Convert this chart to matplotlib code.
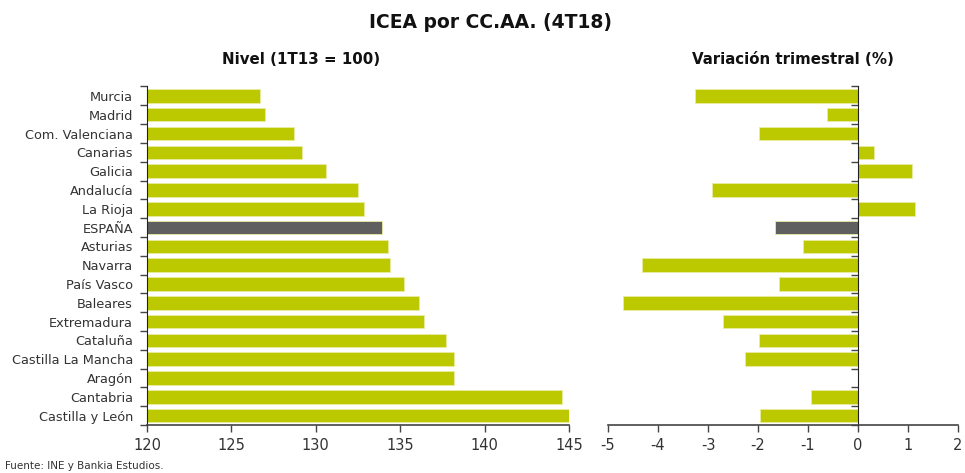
import matplotlib
matplotlib.use("Agg")
import matplotlib.pyplot as plt
import numpy as np

regions = ["Murcia", "Madrid", "Com. Valenciana", "Canarias", "Galicia", "Andalucía",
           "La Rioja", "ESPAÑA", "Asturias", "Navarra", "País Vasco", "Baleares",
           "Extremadura", "Cataluña", "Castilla La Mancha", "Aragón", "Cantabria",
           "Castilla y León"]
nivel = [126.7, 127.0, 128.7, 129.2, 130.6, 132.5, 132.85, 133.9, 134.3, 134.4,
         135.2, 136.1, 136.4, 137.7, 138.2, 138.2, 144.6, 145.0]
variacion = [-3.27, -0.62, -1.98, 0.31, 1.08, -2.92, 1.14, -1.67, -1.11, -4.33,
             -1.59, -4.69, -2.71, -1.98, -2.26, 0.0, -0.94, -1.97]
left_ticks = [120, 125, 130, 135, 140, 145]
right_ticks = [-5, -4, -3, -2, -1, 0, 1, 2]

GREEN = "#bcc800"
GREY = "#5f5f5f"
TXT = "#333333"
colors = [GREY if r == "ESPAÑA" else GREEN for r in regions]

plt.rcParams['font.family'] = ['DejaVu Sans']

fig = plt.figure(figsize=(9.65, 4.73), dpi=100)
ax1 = fig.add_axes([147/965, 1-425/473, (569-147)/965, (425-86.5)/473])
ax2 = fig.add_axes([608/965, 1-425/473, (958-608)/965, (425-86.5)/473])

y = np.arange(len(regions))
bounds = np.arange(len(regions) + 1) - 0.5

for ax in (ax1, ax2):
    for s in ("top", "right"):
        ax.spines[s].set_visible(False)
    ax.spines["left"].set_color("#222222")
    ax.spines["bottom"].set_color("#444444")
    ax.spines["bottom"].set_linewidth(1.2)
    ax.set_ylim(len(regions) - 0.5, -0.5)
    ax.set_yticks(bounds)
    ax.set_yticklabels([])
    ax.set_yticks(y, minor=True)
    ax.tick_params(axis="y", which="major", length=5, width=1, color="#444444")
    ax.tick_params(axis="y", which="minor", length=0)
    ax.tick_params(axis="x", length=5, width=1, color="#444444", labelsize=10.5,
                   labelcolor=TXT, pad=4)

ax1.barh(y, [v - left_ticks[0] for v in nivel], left=left_ticks[0], height=0.72,
         color=colors, edgecolor="#e8eca0", linewidth=0.6)
ax1.set_xlim(left_ticks[0], left_ticks[-1])
ax1.set_xticks(left_ticks)
ax1.set_yticklabels(regions, minor=True, fontsize=9.3, color=TXT)
ax1.tick_params(axis="y", which="minor", pad=10)

ax2.barh(y, variacion, height=0.72, color=colors, edgecolor="#e8eca0", linewidth=0.6)
ax2.set_xlim(right_ticks[0], right_ticks[-1])
ax2.set_xticks(right_ticks)
ax2.set_xticklabels([str(t) for t in right_ticks])
ax2.spines["left"].set_position(("data", 0))
ax2.set_yticklabels([], minor=True)

fig.text(491/965, 1-22/473, "ICEA por CC.AA. (4T18)", ha="center", va="center",
         fontsize=13.5, fontweight="bold", color="#111111")
fig.text(301/965, 1-60/473, "Nivel (1T13 = 100)", ha="center", va="center",
         fontsize=10.8, fontweight="bold", color="#111111")
fig.text(793/965, 1-60/473, "Variación trimestral (%)", ha="center", va="center",
         fontsize=10.8, fontweight="bold", color="#111111")
fig.text(5/965, 1-466/473, "Fuente: INE y Bankia Estudios.", ha="left", va="center",
         fontsize=7.5, color=TXT)

fig.savefig("out.png", dpi=100)
